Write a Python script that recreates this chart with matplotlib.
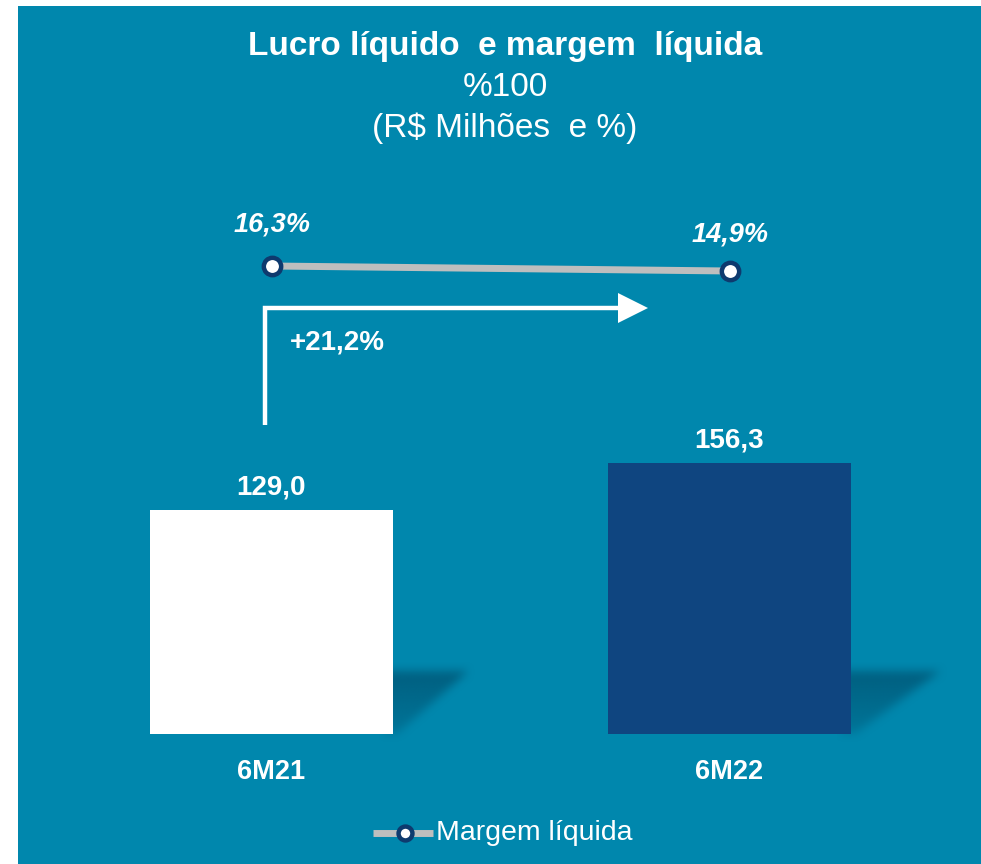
import numpy as np
import matplotlib
matplotlib.use("Agg")
import matplotlib.pyplot as plt
from matplotlib.patches import Rectangle, Polygon

plt.rcParams['font.family'] = ['Liberation Sans', 'DejaVu Sans']

# ---- data ----
categories = ['6M21', '6M22']
lucro = [129.0, 156.3]
lucro_labels = ['129,0', '156,3']
margem = [16.3, 14.9]
margem_labels = ['16,3%', '14,9%']
growth_label = '+21,2%'
title_lines = ['Lucro líquido  e margem  líquida', '%100', '(R$ Milhões  e %)']
legend_label = 'Margem líquida'

BG = '#0087AD'
NAVY = '#0F4580'
MARK_EDGE = '#0E3A6E'
GRAY = '#BEBEBE'
SHADOW = '#005878'

W, H = 981, 864
fig = plt.figure(figsize=(W / 100, H / 100), dpi=100, facecolor='white')

# background axes (pixel coords)
bg = fig.add_axes([0, 0, 1, 1], zorder=-5)
bg.set_xlim(0, W)
bg.set_ylim(H, 0)
bg.axis('off')
bg.add_patch(Rectangle((18, 6), W - 18, H - 6, facecolor=BG, edgecolor='none'))

# main bar axes, full figure; limits chosen so layout matches reference
ax = fig.add_axes([0, 0, 1, 1], zorder=1)
ax.set_facecolor('none')
px_per_x = 458.0
x0_px = 271.0
base_px = 734.0
px_per_y = 224.0 / 129.0
ax.axis('off')

x = np.arange(len(categories))
width = 243.0 / px_per_x
bars = ax.bar(x, lucro, width=width, color=['white', NAVY], zorder=3)

# blurred shadows at bottom-right of each bar
def add_shadow(ax, xr, reach):
    sx0, sx1 = xr - 0.03, xr + reach + 0.08
    sy0, sy1 = -10.0, 55.0
    nx, ny = 170, 140
    gx = np.linspace(sx0, sx1, nx)
    gy = np.linspace(sy1, sy0, ny)
    X, Y = np.meshgrid(gx, gy)
    top = 36.0
    diag = xr + 0.01 + (Y / top) * (reach - 0.01)
    mask = ((X >= xr - 0.02) & (Y >= 0) & (Y <= top) & (X <= diag)).astype(float)
    mask *= 0.45 + 0.55 * np.clip(Y / top, 0, 1)
    k = 13
    ker = np.ones(k) / k
    for _ in range(2):
        mask = np.apply_along_axis(lambda r: np.convolve(r, ker, mode='same'), 1, mask)
        mask = np.apply_along_axis(lambda c: np.convolve(c, ker, mode='same'), 0, mask)
    rgba = np.zeros((ny, nx, 4))
    c = matplotlib.colors.to_rgb(SHADOW)
    rgba[..., 0], rgba[..., 1], rgba[..., 2] = c
    rgba[..., 3] = np.clip(mask * 0.85, 0, 1)
    ax.imshow(rgba, extent=(sx0, sx1, sy0, sy1), aspect='auto', zorder=2,
              interpolation='bilinear')

for b, reach in zip(bars, [0.165, 0.195]):
    add_shadow(ax, b.get_x() + b.get_width(), reach)
ax.set_xlim(-x0_px / px_per_x, (W - x0_px) / px_per_x)
ax.set_ylim(-(H - base_px) / px_per_y, base_px / px_per_y)

for xi, v, lab in zip(x, lucro, lucro_labels):
    ax.text(xi, v + 22.5 / px_per_y, lab, ha='center', va='center',
            color='white', fontsize=20, fontweight='bold', zorder=5)
for xi, cat in zip(x, categories):
    ax.text(xi, -38 / px_per_y, cat, ha='center', va='center',
            color='white', fontsize=19.5, fontweight='bold', zorder=5)

# margin line on secondary axis
ax2 = ax.twinx()
ax2.set_facecolor('none')
ax2.axis('off')
b2 = 5.0 / 1.4
a2 = 266 + 16.3 * b2
ax2.set_ylim((a2 - H) / b2, a2 / b2)
ax2.plot(x + 0.002, margem, color=GRAY, lw=5, zorder=4, solid_capstyle='butt')
ax2.plot(x + 0.002, margem, ls='none', marker='o', ms=12.5, mfc='white',
         mec=MARK_EDGE, mew=3.2, zorder=5)
for xi, v, lab, dy in zip(x, margem, margem_labels, [41, 36]):
    ax2.text(xi + 0.002, v + dy / b2, lab, ha='center', va='center', color='white',
             fontsize=19.5, fontweight='bold', fontstyle='italic', zorder=6)

# overlay in pixel coordinates for titles, arrow and legend
ov = fig.add_axes([0, 0, 1, 1], zorder=3)
ov.set_xlim(0, W)
ov.set_ylim(H, 0)
ov.axis('off')
ov.set_facecolor('none')

ty = [47, 88, 128]
for i, (t, y) in enumerate(zip(title_lines, ty)):
    ov.text(505, y, t, ha='center', va='center', color='white', fontsize=24,
            fontweight='bold' if i == 0 else 'normal')

# growth arrow
ov.plot([265, 265, 620], [425, 308, 308], color='white', lw=3.2,
        solid_joinstyle='miter', solid_capstyle='butt')
ov.add_patch(Polygon([[618, 293], [648, 308], [618, 323]], closed=True,
                     facecolor='white', edgecolor='none'))
ov.text(290, 343, growth_label, ha='left', va='center', color='white',
        fontsize=20, fontweight='bold')

# legend
ov.plot([373, 433], [833, 833], color=GRAY, lw=5, solid_capstyle='butt')
ov.plot([405], [833], ls='none', marker='o', ms=10, mfc='white',
        mec=MARK_EDGE, mew=3.2)
ov.text(436, 833, legend_label, ha='left', va='center', color='white',
        fontsize=20.5)

fig.savefig('out.png', dpi=100, facecolor='white')
